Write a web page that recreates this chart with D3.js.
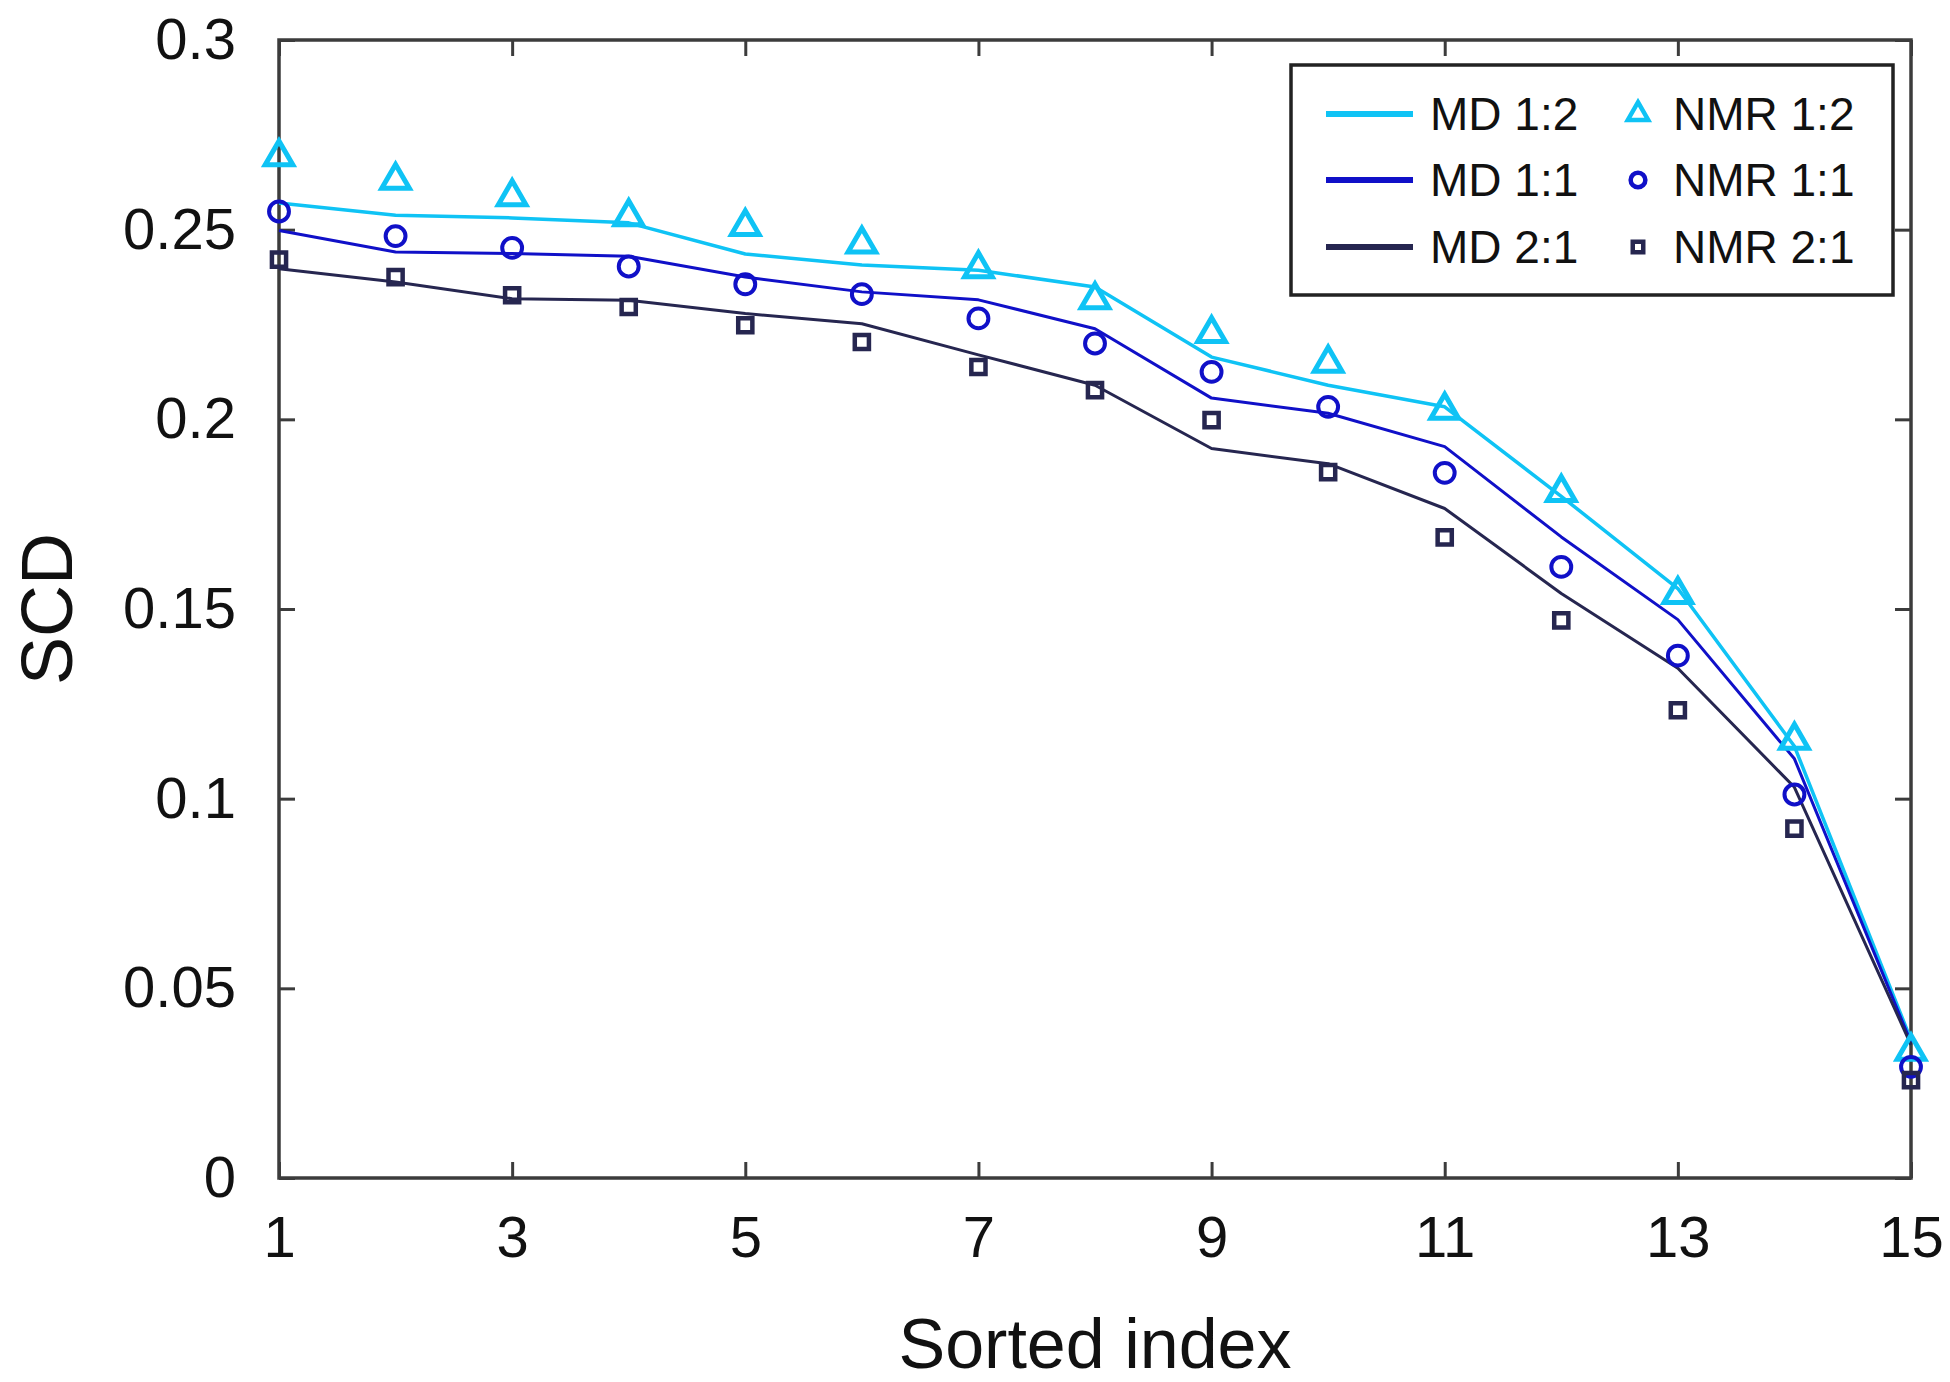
<!DOCTYPE html>
<html>
<head>
<meta charset="utf-8">
<script src="https://cdn.jsdelivr.net/npm/d3@7"></script>
<style>
  html, body { margin: 0; padding: 0; background: #fff; }
  svg { display: block; }
  text { font-family: "Liberation Sans", Arial, sans-serif; fill: #111; }
</style>
</head>
<body>
<svg id="chart" width="1950" height="1382"></svg>
<script>
// ---- data ----
const sortedIndex = [1,2,3,4,5,6,7,8,9,10,11,12,13,14,15];
const xTicks = [1,3,5,7,9,11,13,15];
const yTicks = [0,0.05,0.1,0.15,0.2,0.25,0.3];
const yTickLabels = ["0","0.05","0.1","0.15","0.2","0.25","0.3"];

const md12 = [0.2570,0.2538,0.2531,0.2518,0.2436,0.2407,0.2393,0.2349,0.2164,0.2090,0.2033,0.1797,0.1554,0.1138,0.0364];
const md11 = [0.2498,0.2441,0.2437,0.2430,0.2375,0.2336,0.2315,0.2239,0.2056,0.2016,0.1928,0.1690,0.1472,0.1105,0.0357];
const md21 = [0.2397,0.2362,0.2318,0.2314,0.2279,0.2252,0.2170,0.2090,0.1923,0.1883,0.1765,0.1541,0.1344,0.1030,0.0351];

const nmr12 = [0.2692,0.2630,0.2587,0.2534,0.2508,0.2462,0.2397,0.2315,0.2226,0.2148,0.2024,0.1807,0.1538,0.1154,0.0334];
const nmr11 = [0.2548,0.2483,0.2452,0.2403,0.2356,0.2330,0.2266,0.2200,0.2125,0.2033,0.1859,0.1611,0.1377,0.1011,0.0293];
const nmr21 = [0.2421,0.2375,0.2327,0.2296,0.2248,0.2204,0.2138,0.2077,0.1998,0.1861,0.1689,0.1470,0.1233,0.0921,0.0258];

const lineNames = ["MD 1:2","MD 1:1","MD 2:1"];
const markerNames = ["NMR 1:2","NMR 1:1","NMR 2:1"];
const colors = ["#0fc3f5","#1010c8","#262650"];
const xLabel = "Sorted index";
const yLabel = "SCD";

// ---- layout ----
const L = 279, R = 1911, T = 40, B = 1178;
const svg = d3.select("#chart");
const x = d3.scaleLinear().domain([1,15]).range([L,R]);
const y = d3.scaleLinear().domain([0,0.3]).range([B,T]);
const axisColor = "#3c3c3c";
const tickLen = 16;

// axes (inward ticks on all four sides)
const gB = svg.append("g").attr("transform",`translate(0,${B})`)
  .call(d3.axisBottom(x).tickValues(xTicks).tickFormat(d3.format("d"))
    .tickSizeInner(-tickLen).tickSizeOuter(0).tickPadding(38));
const gT = svg.append("g").attr("transform",`translate(0,${T})`)
  .call(d3.axisTop(x).tickValues(xTicks).tickFormat("")
    .tickSizeInner(-tickLen).tickSizeOuter(0));
const gL = svg.append("g").attr("transform",`translate(${L},0)`)
  .call(d3.axisLeft(y).tickValues(yTicks).tickFormat((d,i)=>yTickLabels[i])
    .tickSizeInner(-tickLen).tickSizeOuter(0).tickPadding(43));
const gR = svg.append("g").attr("transform",`translate(${R},0)`)
  .call(d3.axisRight(y).tickValues(yTicks).tickFormat("")
    .tickSizeInner(-tickLen).tickSizeOuter(0));
[gB,gT,gL,gR].forEach(g=>{
  g.select(".domain").remove();
  g.selectAll(".tick line").attr("stroke",axisColor).attr("stroke-width",3);
  g.selectAll(".tick text").style("font-family",'"Liberation Sans", Arial, sans-serif')
    .style("font-size","58px").attr("fill","#111");
});
svg.append("rect").attr("x",L).attr("y",T).attr("width",R-L).attr("height",B-T)
  .attr("fill","none").attr("stroke",axisColor).attr("stroke-width",3.5);

// axis labels
svg.append("text").attr("x",(L+R)/2).attr("y",1368).attr("text-anchor","middle")
  .style("font-size","70px").text(xLabel);
svg.append("text").attr("transform",`translate(72,${(T+B)/2}) rotate(-90)`)
  .attr("text-anchor","middle").style("font-size","72px").text(yLabel);

// lines
const lineGen = d3.line().x((d,i)=>x(sortedIndex[i])).y(d=>y(d));
const lineWidths = [3.5,3,3];
[md12,md11,md21].forEach((s,k)=>{
  svg.append("path").datum(s).attr("d",lineGen).attr("fill","none")
    .attr("stroke",colors[k]).attr("stroke-width",lineWidths[k]).attr("stroke-linejoin","round");
});

// markers
const symTypes = [d3.symbolTriangle, d3.symbolCircle, d3.symbolSquare];
const symSizes = [330, 310, 200];
const symStroke = [5, 4, 4.5];
[nmr12,nmr11,nmr21].forEach((s,k)=>{
  svg.append("g").selectAll("path").data(s).join("path")
    .attr("transform",(d,i)=>`translate(${x(sortedIndex[i])},${y(d)})`)
    .attr("d",d3.symbol().type(symTypes[k]).size(symSizes[k]))
    .attr("fill","none").attr("stroke",colors[k]).attr("stroke-width",symStroke[k]);
});

// legend
const lg = svg.append("g");
lg.append("rect").attr("x",1291).attr("y",65).attr("width",602).attr("height",230)
  .attr("fill","#fff").attr("stroke","#222").attr("stroke-width",3.5);
const rowY = [114,180,247];
lineNames.forEach((n,k)=>{
  lg.append("line").attr("x1",1326).attr("x2",1413).attr("y1",rowY[k]).attr("y2",rowY[k])
    .attr("stroke",colors[k]).attr("stroke-width",6);
  lg.append("text").attr("x",1430).attr("y",rowY[k]+16).style("font-size","46px").text(n);
});
const legSizes = [180, 170, 110];
markerNames.forEach((n,k)=>{
  lg.append("path").attr("transform",`translate(1638,${rowY[k]})`)
    .attr("d",d3.symbol().type(symTypes[k]).size(legSizes[k]))
    .attr("fill","none").attr("stroke",colors[k]).attr("stroke-width",4.5);
  lg.append("text").attr("x",1673).attr("y",rowY[k]+16).style("font-size","46px").text(n);
});
</script>
</body>
</html>
